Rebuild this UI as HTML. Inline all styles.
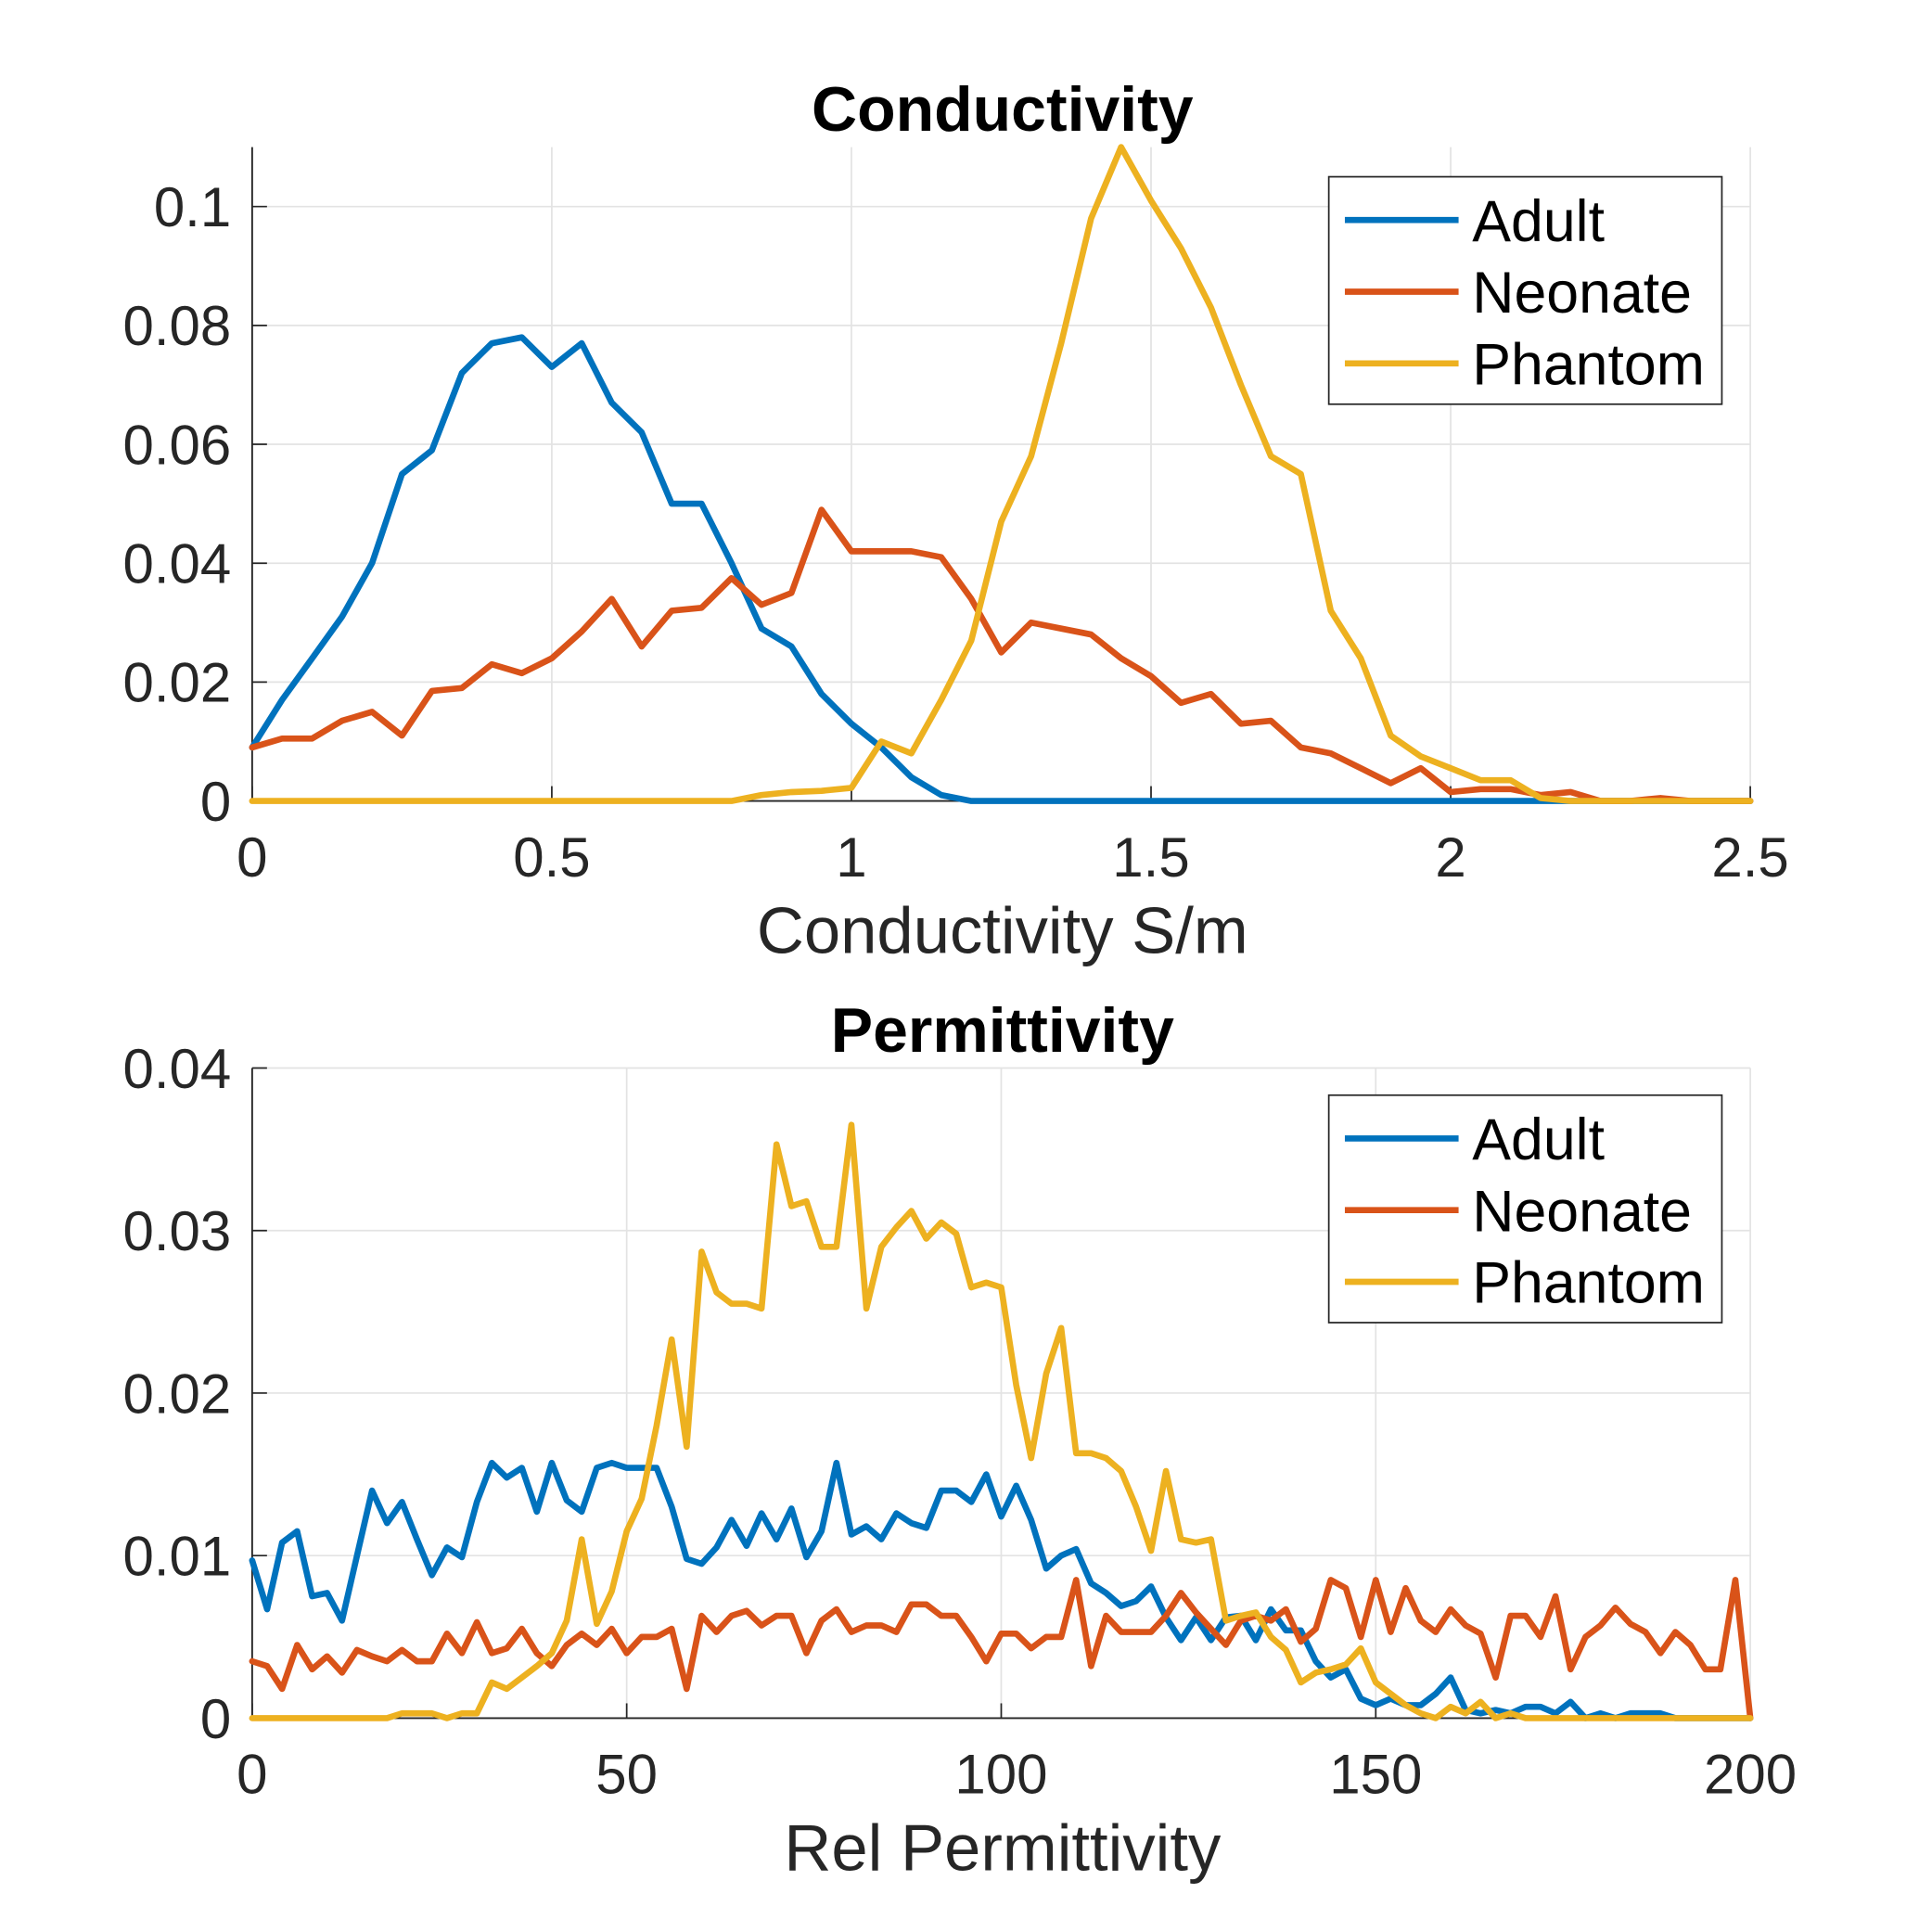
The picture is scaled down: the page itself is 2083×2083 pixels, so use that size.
<!DOCTYPE html>
<html><head><meta charset="utf-8"><style>
html,body{margin:0;padding:0;background:#fff}
svg{display:block}
text{font-family:"Liberation Sans",sans-serif;fill:#262626}
</style></head><body>
<svg id="fig" width="2083" height="2083" viewBox="0 0 1563 1563" xmlns="http://www.w3.org/2000/svg"></svg>
<script>
const condX=[];for(let i=0;i<=50;i++)condX.push(i*0.05);
const condAdult=[0.009,0.017,0.024,0.031,0.040,0.055,0.059,0.072,0.077,0.078,0.073,0.077,0.067,0.062,0.050,0.050,0.040,0.029,0.026,0.018,0.013,0.009,0.004,0.001,0,0,0,0,0,0,0,0,0,0,0,0,0,0,0,0,0,0,0,0,0,0,0,0,0,0,0];
const condNeonate=[0.009,0.0105,0.0105,0.0135,0.015,0.011,0.0185,0.019,0.023,0.0215,0.024,0.0285,0.034,0.026,0.032,0.0325,0.0375,0.033,0.035,0.049,0.042,0.042,0.042,0.041,0.034,0.025,0.030,0.029,0.028,0.024,0.021,0.0165,0.018,0.013,0.0135,0.009,0.008,0.0055,0.003,0.0055,0.0015,0.002,0.002,0.001,0.0015,0,0,0.0005,0,0,0];
const condPhantom=[0,0,0,0,0,0,0,0,0,0,0,0,0,0,0,0,0,0.001,0.0015,0.0017,0.0022,0.010,0.008,0.017,0.027,0.047,0.058,0.077,0.098,0.110,0.101,0.093,0.083,0.070,0.058,0.055,0.032,0.024,0.011,0.0075,0.0055,0.0035,0.0035,0.0005,0,0,0,0,0,0,0];
const condXTicks=[0,0.5,1,1.5,2,2.5];
const condXTickLabels=["0","0.5","1","1.5","2","2.5"];
const condYTicks=[0,0.02,0.04,0.06,0.08,0.1];
const condYTickLabels=["0","0.02","0.04","0.06","0.08","0.1"];

const permX=[];for(let i=0;i<=100;i++)permX.push(i*2);
const permAdult=[0.0097,0.0067,0.0108,0.0115,0.0075,0.0077,0.006,0.010,0.014,0.012,0.0133,0.011,0.0088,0.0105,0.0099,0.0133,0.0157,0.0148,0.0154,0.0127,0.0157,0.0134,0.0127,0.0154,0.0157,0.0154,0.0154,0.0154,0.013,0.0098,0.0095,0.0105,0.0122,0.0106,0.0126,0.011,0.0129,0.0099,0.0115,0.0157,0.0113,0.0118,0.011,0.0126,0.012,0.0117,0.014,0.014,0.0133,0.015,0.0124,0.0143,0.0122,0.0092,0.010,0.0104,0.0083,0.0077,0.0069,0.0072,0.0081,0.0062,0.0048,0.0062,0.0048,0.0062,0.0063,0.0048,0.0067,0.0054,0.0054,0.0035,0.0025,0.003,0.0012,0.0008,0.0012,0.0008,0.0008,0.0015,0.0025,0.0005,0.0003,0.0005,0.0003,0.0007,0.0007,0.0003,0.001,0,0.0003,0,0.0003,0.0003,0.0003,0,0,0,0,0,0];
const permNeonate=[0.0035,0.0032,0.0018,0.0045,0.003,0.0038,0.0028,0.0042,0.0038,0.0035,0.0042,0.0035,0.0035,0.0052,0.004,0.0059,0.004,0.0043,0.0055,0.004,0.0032,0.0045,0.0052,0.0045,0.0055,0.004,0.005,0.005,0.0055,0.0018,0.0063,0.0053,0.0063,0.0066,0.0057,0.0063,0.0063,0.004,0.006,0.0067,0.0053,0.0057,0.0057,0.0053,0.007,0.007,0.0063,0.0063,0.005,0.0035,0.0052,0.0052,0.0043,0.005,0.005,0.0085,0.0032,0.0063,0.0053,0.0053,0.0053,0.0063,0.0077,0.0065,0.0055,0.0045,0.006,0.0063,0.006,0.0067,0.0047,0.0055,0.0085,0.008,0.005,0.0085,0.0053,0.008,0.006,0.0053,0.0067,0.0057,0.0052,0.0025,0.0063,0.0063,0.005,0.0075,0.003,0.005,0.0057,0.0068,0.0058,0.0053,0.004,0.0053,0.0045,0.003,0.003,0.0085,0];
const permPhantom=[0,0,0,0,0,0,0,0,0,0,0.0003,0.0003,0.0003,0,0.0003,0.0003,0.0022,0.0018,0.0025,0.0032,0.004,0.006,0.011,0.0058,0.0078,0.0115,0.0135,0.018,0.0233,0.0167,0.0287,0.0262,0.0255,0.0255,0.0252,0.0353,0.0315,0.0318,0.029,0.029,0.0365,0.0252,0.029,0.0302,0.0312,0.0295,0.0305,0.0298,0.0265,0.0268,0.0265,0.0205,0.016,0.0212,0.024,0.0163,0.0163,0.016,0.0152,0.013,0.0103,0.0152,0.011,0.0108,0.011,0.006,0.0063,0.0065,0.005,0.0042,0.0022,0.0028,0.003,0.0033,0.0043,0.0022,0.0015,0.0008,0.0003,0,0.0007,0.0003,0.001,0,0.0003,0,0,0,0,0,0,0,0,0,0,0,0,0,0,0,0];
const permXTicks=[0,50,100,150,200];
const permXTickLabels=["0","50","100","150","200"];
const permYTicks=[0,0.01,0.02,0.03,0.04];
const permYTickLabels=["0","0.01","0.02","0.03","0.04"];
const seriesNames=["Adult","Neonate","Phantom"];
const colors=["#0072BD","#D95319","#EDB120"];

const NS="http://www.w3.org/2000/svg";
const svg=document.getElementById('fig');
function mk(tag,attrs,parent){const e=document.createElementNS(NS,tag);for(const k in attrs)e.setAttribute(k,attrs[k]);(parent||svg).appendChild(e);return e;}

function drawPanel(p){
  const g=mk('g',{});
  
  
  const L=204,R=1416,T=p.top,B=p.bottom;
  const sx=v=>L+(v-p.xmin)/(p.xmax-p.xmin)*(R-L);
  const sy=v=>B-(v-p.ymin)/(p.ymax-p.ymin)*(B-T);
  p.xTicks.forEach((t,i)=>{
    const x=sx(t);
    const gl=mk('line',{x1:x,x2:x,y1:T,y2:B,stroke:'#e3e3e3','stroke-width':1.3},g);
    
    const tk=mk('line',{x1:x,x2:x,y1:B,y2:B-12,stroke:'#262626','stroke-width':1.3},g);
    
    const tl=mk('text',{x:x,y:B+61,'text-anchor':'middle','font-size':45},g);tl.textContent=p.xTickLabels[i];
    
  });
  p.yTicks.forEach((t,i)=>{
    const y=sy(t);
    const gl=mk('line',{x1:L,x2:R,y1:y,y2:y,stroke:'#e3e3e3','stroke-width':1.3},g);
    
    const tk=mk('line',{x1:L,x2:L+12,y1:y,y2:y,stroke:'#262626','stroke-width':1.3},g);
    
    const tl=mk('text',{x:187,y:y+16,'text-anchor':'end','font-size':45},g);tl.textContent=p.yTickLabels[i];
    
  });
  const ax=mk('path',{d:`M${L},${T}V${B}H${R}`,fill:'none',stroke:'#262626','stroke-width':1.4},g);
  
  p.series.forEach((s,k)=>{
    const d=s.map((v,i)=>(i?'L':'M')+sx(p.x[i]).toFixed(1)+','+sy(v).toFixed(1)).join('');
    const pl=mk('path',{d:d,fill:'none',stroke:colors[k],'stroke-width':5,'stroke-linejoin':'round','stroke-linecap':'round'},g);
    
    
  });
  const ti=mk('text',{x:811,y:T-13,'text-anchor':'middle','font-size':51,'font-weight':'bold',style:'fill:#000'},g);ti.textContent=p.title;
  
  const xl=mk('text',{x:811,y:B+123,'text-anchor':'middle','font-size':53},g);xl.textContent=p.xlabel;
  
  const lg=mk('g',{},g);
  
  mk('rect',{x:1075,y:p.legTop,width:318,height:184,fill:'#fff',stroke:'#262626','stroke-width':1.3},lg);
  seriesNames.forEach((n,k)=>{
    const y=p.legTop+35+k*58;
    const e=mk('g',{},lg);
    
    mk('line',{x1:1088,x2:1180,y1:y,y2:y,stroke:colors[k],'stroke-width':5},e);
    const t=mk('text',{x:1191,y:y+17,'font-size':47,style:'fill:#000'},e);t.textContent=n;
  });
}
drawPanel({key:'conductivity',top:119,bottom:648,xmin:0,xmax:2.5,ymin:0,ymax:0.11,x:condX,series:[condAdult,condNeonate,condPhantom],
 xTicks:condXTicks,xTickLabels:condXTickLabels,yTicks:condYTicks,yTickLabels:condYTickLabels,title:'Conductivity',xlabel:'Conductivity S/m',legTop:143});
drawPanel({key:'permittivity',top:864,bottom:1390,xmin:0,xmax:200,ymin:0,ymax:0.04,x:permX,series:[permAdult,permNeonate,permPhantom],
 xTicks:permXTicks,xTickLabels:permXTickLabels,yTicks:permYTicks,yTickLabels:permYTickLabels,title:'Permittivity',xlabel:'Rel Permittivity',legTop:886});
</script>
</body></html>
